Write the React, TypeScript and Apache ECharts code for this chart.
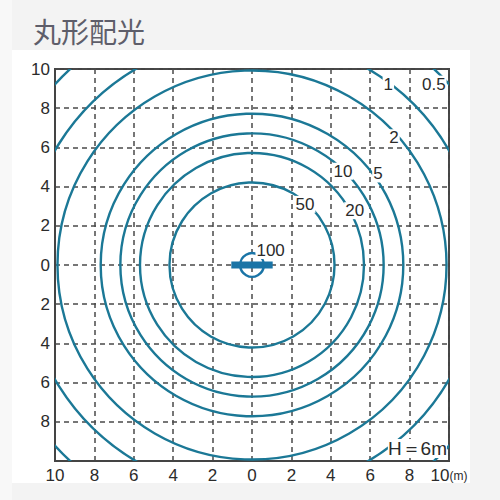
import React, { useEffect, useRef } from "react";
import * as echarts from "echarts";

const chartTitle = "丸形配光";
const heightNote = "H＝6m";
const unitNote = "(m)";
const axisMin = -10;
const axisMax = 10;
const axisStep = 2;
const contourLabels = ["0.5", "1", "2", "5", "10", "20", "50", "100"];
const contourRadii = [13.6, 11.6, 9.9, 7.7, 6.7, 5.7, 4.2, 0.6];
const fixtureSpan = [-1.05, 1.05];

// label placement (layout only)
const labelAngles = [45, 53, 42, 36, 46, 28, 49, 38];
const labelDist = [13.05, 11.5, 9.7, 7.9, 6.65, 5.9, 4.1, 1.2];

const LINE = "#1b7896";
const FIX = "#1a74a6";
const TXT = "#2b2b2b";
const GRIDC = "#4a4a4a";
const NARROW = '"Liberation Sans Narrow", "Arial Narrow", "Liberation Sans", sans-serif';

export default function App() {
  const ref = useRef<HTMLDivElement>(null);
  useEffect(() => {
    if (!ref.current) return;
    const chart = echarts.init(ref.current, undefined, { renderer: "svg" });
    const axisCommon = {
      type: "value",
      min: axisMin,
      max: axisMax,
      interval: axisStep,
      axisTick: { show: false },
      minorTick: { show: false },
      minorSplitLine: { show: false },
      axisLine: { show: true, onZero: false, lineStyle: { color: "#444", width: 2 } },
      splitLine: { show: true, lineStyle: { color: GRIDC, width: 1.5, type: [5, 4] } },
    };
    chart.setOption({
      animation: false,
      title: {
        text: chartTitle,
        left: 28,
        top: 12,
        textStyle: { fontSize: 28, fontWeight: "normal", color: "#5e5e6a", fontFamily: '"Noto Sans CJK JP", sans-serif' },
      },
      grid: {
        left: 55,
        right: 51,
        top: 69,
        bottom: 39,
        show: true,
        backgroundColor: "#fff",
        borderColor: "#444",
        borderWidth: 2,
      },
      xAxis: {
        ...axisCommon,
        axisLabel: {
          margin: 6,
          color: TXT,
          fontSize: 17,
          fontFamily: NARROW,
          formatter: (v: number) => (v === axisMax ? `${Math.abs(v)}{m|${unitNote}}` : String(Math.abs(v))),
          rich: { m: { fontSize: 12, fontFamily: NARROW, color: TXT } },
        },
      },
      yAxis: {
        ...axisCommon,
        axisLabel: {
          margin: 5,
          color: TXT,
          fontSize: 17,
          fontFamily: NARROW,
          formatter: (v: number) => (v === axisMin ? "" : String(Math.abs(v))),
        },
      },
      series: [
        {
          type: "custom",
          clip: true,
          data: contourRadii.map((r) => [r]),
          renderItem: (params: any, api: any) => {
            const idx = params.dataIndex;
            const r = api.value(0);
            const c = api.coord([0, 0]);
            const s = api.size([r, r]);
            const rad = (s[0] + s[1]) / 2;
            const a = (labelAngles[idx] * Math.PI) / 180;
            const d = labelDist[idx];
            const p = api.coord([d * Math.cos(a), d * Math.sin(a)]);
            const isCenter = idx === contourLabels.length - 1;
            return {
              type: "group",
              children: [
                {
                  type: "circle",
                  shape: { cx: c[0], cy: c[1], r: rad },
                  style: { fill: "none", stroke: isCenter ? FIX : LINE, lineWidth: 2.4 },
                },
                {
                  type: "text",
                  x: p[0],
                  y: p[1],
                  z2: 10,
                  style: {
                    text: contourLabels[idx],
                    fill: TXT,
                    fontSize: 17,
                    fontFamily: NARROW,
                    align: "center",
                    verticalAlign: "middle",
                    backgroundColor: "#fff",
                    padding: [0, 1],
                  },
                },
              ],
            };
          },
        },
        {
          type: "custom",
          clip: true,
          data: [[fixtureSpan[0], fixtureSpan[1]]],
          renderItem: (params: any, api: any) => {
            const p1 = api.coord([api.value(0), 0]);
            const p2 = api.coord([api.value(1), 0]);
            return {
              type: "rect",
              shape: { x: p1[0], y: p1[1] - 3.5, width: p2[0] - p1[0], height: 7 },
              style: { fill: FIX },
              z2: 5,
            };
          },
        },
      ],
      graphic: [
        {
          type: "text",
          right: 53,
          bottom: 42,
          z: 100,
          style: {
            text: heightNote,
            fill: TXT,
            fontSize: 19,
            fontFamily: NARROW,
            backgroundColor: "#fff",
          },
        },
      ],
    });
    return () => chart.dispose();
  }, []);
  return (
    <div style={{ position: "fixed", left: 0, top: 0, width: 500, height: 500, background: "#f3f3f3" }}>
      <div style={{ position: "absolute", left: 0, top: 0, width: 12, height: 500, background: "#f8f8f8" }} />
      <div style={{ position: "absolute", left: 12, top: 50, width: 458, height: 433, background: "#fff" }} />
      <div ref={ref} style={{ position: "absolute", left: 0, top: 0, width: 500, height: 500 }} />
    </div>
  );
}
